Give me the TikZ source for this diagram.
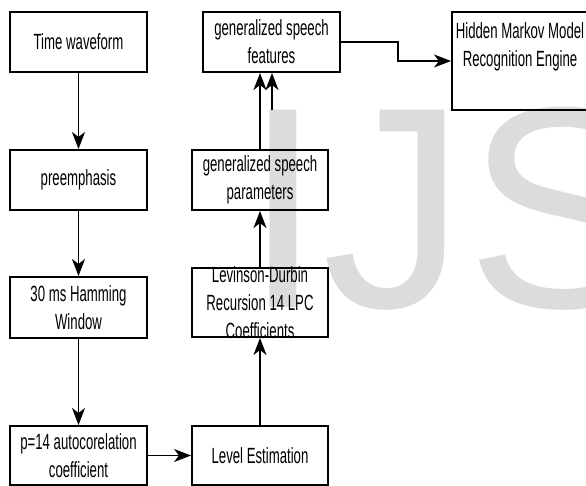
\documentclass[tikz,border=0pt]{standalone}
\usepackage{fontspec}
\setmainfont{Liberation Sans}[FakeStretch=0.6]
\newfontfamily\wmfont{Liberation Sans}
\usetikzlibrary{arrows.meta}
\definecolor{wm}{RGB}{220,220,220}
\tikzset{
  box/.style={draw, line width=2pt, minimum width=137pt, inner sep=0pt, align=center,
              font=\fontsize{22}{28}\selectfont},
  txt/.style={inner sep=0pt, align=center, font=\fontsize{22}{28}\selectfont},
  conn/.style={line width=1.8pt, -{Stealth[length=17pt,width=13pt,inset=5pt]}},
}
\begin{document}
\begin{tikzpicture}[x=1pt,y=-1pt]
\useasboundingbox (0,0) rectangle (586,485);
% watermark
\node[anchor=base west, inner sep=0pt, text=wm, font=\wmfont\fontsize{287}{287}\selectfont] (wmark) at (243,307) {IJS};
% left column
\node[box, minimum height=60pt] (tw) at (78.5,42) {Time waveform};
\node[box, minimum height=60pt] (pre) at (78.5,180) {preemphasis};
\node[box, minimum height=61pt] (ham) at (78.5,307.5) {30 ms Hamming\\Window};
\node[box, minimum height=59pt] (auto) at (78.5,455.5) {p=14 autocorelation\\coefficient};
% middle column
\node[box, minimum height=60pt] (feat) at (271.5,42) {generalized speech\\features};
\node[box, minimum height=60pt, minimum width=136pt] (par) at (260,180) {generalized speech\\parameters};
\node[box, minimum height=69pt, minimum width=136pt] (lev) at (260,302.5) {};
\node[txt] (levtxt) at (260,302.5) {Levinson-Durbin\\Recursion 14 LPC\\Coefficients};
\node[box, minimum height=59pt, minimum width=136pt] (lvl) at (260,455.5) {Level Estimation};
% HMM
\node[box, minimum height=98pt, minimum width=138pt] (hmm) at (521,61) {};
\node[txt] (hmmtxt) at (520,47) {Hidden Markov Model\\Recognition Engine};
% connectors
\draw[conn] (tw) -- (pre);
\draw[conn] (pre) -- (ham);
\draw[conn] (ham) -- (auto);
\draw[conn] (auto) -- (lvl);
\draw[conn] (lvl) -- (lev);
\draw[conn] (lev) -- (par);
\draw[conn] (par.north) -- (par.north |- feat.south);
\coordinate (second) at (272,110);
\draw[conn] (second) -- (second |- feat.south);
\draw[conn] (feat.east) -- ++(57,0) |- (hmm.west);
\end{tikzpicture}
\end{document}
